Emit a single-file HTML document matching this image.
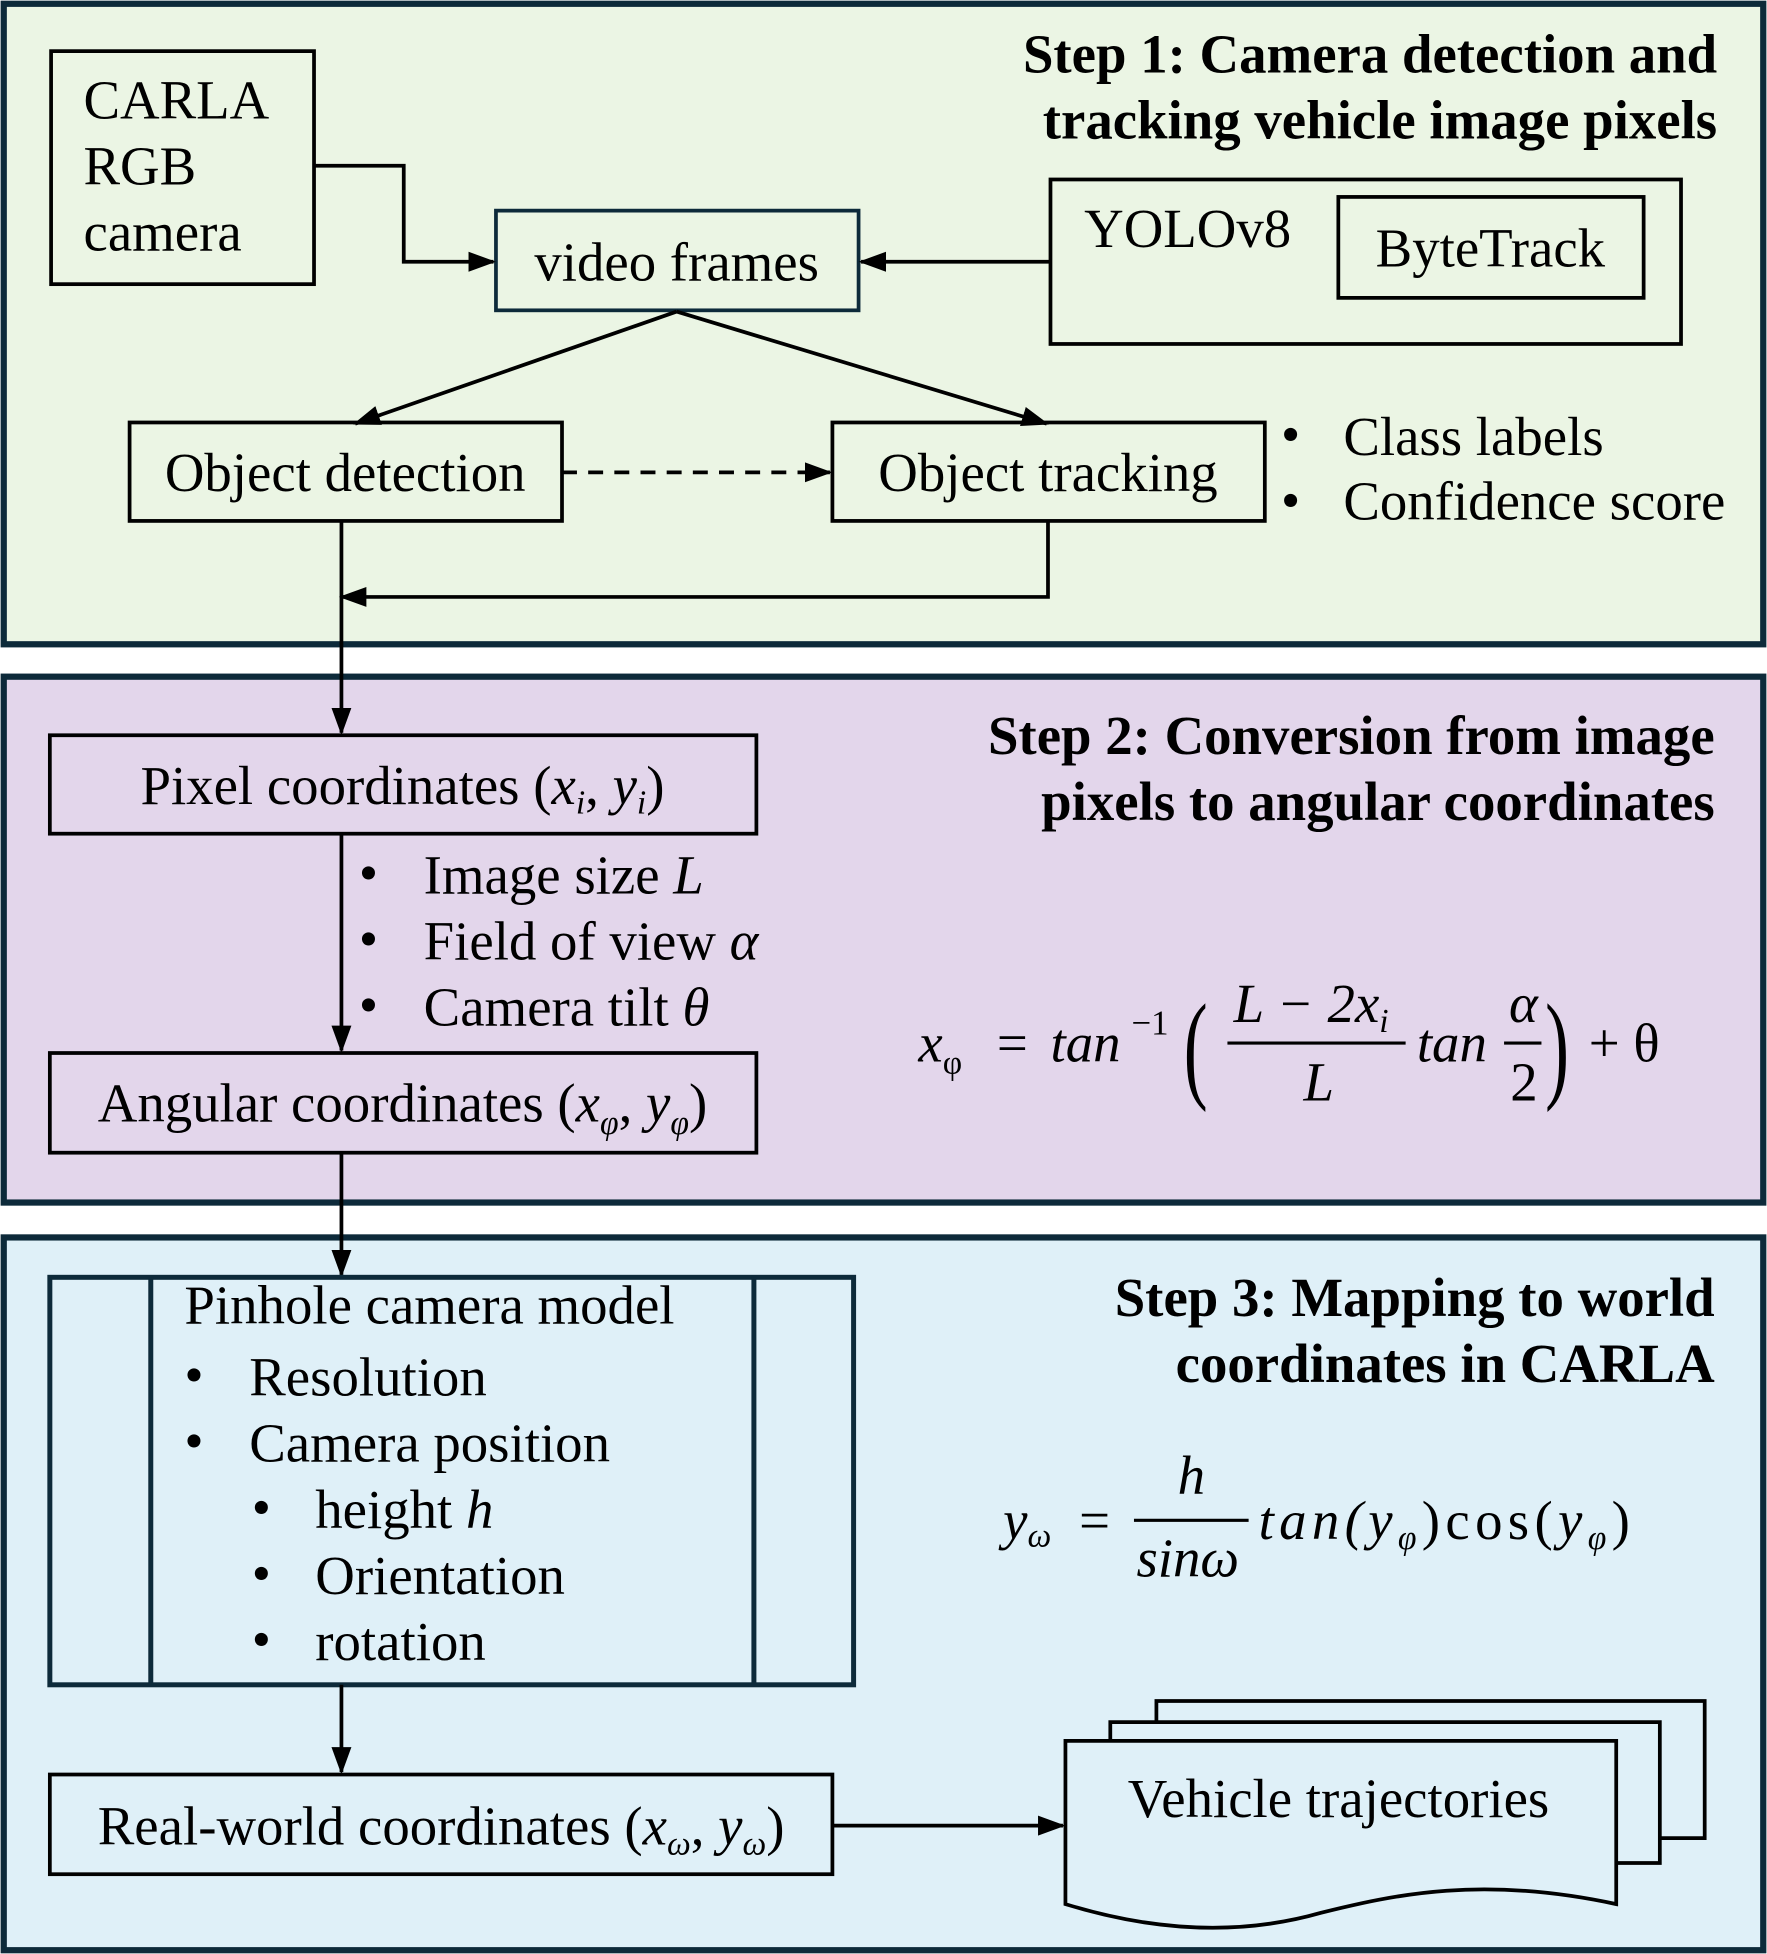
<!DOCTYPE html>
<html><head><meta charset="utf-8"><style>
html,body{margin:0;padding:0;background:#fff}
svg{display:block}
text{font-family:"Liberation Serif",serif;font-size:44px;fill:#000}
.b{font-weight:bold}
.i{font-style:italic}
.s{font-size:27px}
</style></head><body>
<svg width="1767" height="1954" viewBox="0 0 1418 1568" xmlns="http://www.w3.org/2000/svg">
<defs>
<marker id="A" markerWidth="22" markerHeight="20" refX="20" refY="10" orient="auto" markerUnits="userSpaceOnUse" viewBox="0 0 22 20">
<path d="M0,2 L22,10 L0,18 z" fill="#000"/></marker>
</defs>
<rect x="3" y="3" width="1412" height="514" fill="#ebf5e4" stroke="#0d2a3a" stroke-width="5"/>
<rect x="3" y="543" width="1412" height="422" fill="#e3d6eb" stroke="#0d2a3a" stroke-width="5"/>
<rect x="3" y="993" width="1412" height="572" fill="#dff0f8" stroke="#0d2a3a" stroke-width="5"/>

<g fill="none" stroke="#000" stroke-width="3">
<rect x="41" y="41" width="211" height="187"/>
<rect x="398" y="169" width="291" height="80" stroke="#0d2a3a"/>
<rect x="843" y="144" width="506" height="132"/>
<rect x="1074" y="158" width="245" height="81"/>
<rect x="104" y="339" width="347" height="79"/>
<rect x="668" y="339" width="347" height="79"/>
<path d="M252,133 H324 V210 H396" marker-end="url(#A)"/>
<path d="M843,210 H691" marker-end="url(#A)"/>
<path d="M543,250 L285,340" marker-end="url(#A)"/>
<path d="M543,250 L840,340" marker-end="url(#A)"/>
<path d="M451,379 H666" stroke-dasharray="12,9" marker-end="url(#A)"/>
<path d="M274,418 V588" marker-end="url(#A)"/>
<path d="M841,418 V479 H274" marker-end="url(#A)"/>
<rect x="40" y="590" width="567" height="79"/>
<rect x="40" y="845" width="567" height="80"/>
<path d="M274,669 V843" marker-end="url(#A)"/>
<path d="M274,925 V1023" marker-end="url(#A)"/>
<rect x="40" y="1025" width="645" height="327" stroke="#0d2a3a" stroke-width="4"/>
<path d="M121,1025 V1352 M605,1025 V1352" stroke="#0d2a3a" stroke-width="4"/>
<path d="M274,1352 V1422" marker-end="url(#A)"/>
<rect x="40" y="1424" width="628" height="80"/>
<path d="M668,1465 H853" marker-end="url(#A)"/>
<path d="M928,1382 V1365 H1368 V1475 H1332" fill="#dff0f8"/>
<path d="M891,1397 V1382 H1332 V1495 H1297" fill="#dff0f8"/>
<path d="M855,1397 H1297 V1528 C1190,1505 1120,1520 1060,1535 C990,1555 920,1548 855,1528 Z" fill="#dff0f8"/>
</g>

<text class="b" x="1378" y="58" text-anchor="end">Step 1: Camera detection and</text>
<text class="b" x="1378" y="111" text-anchor="end">tracking vehicle image pixels</text>
<text x="67" y="95">CARLA</text>
<text x="67" y="148">RGB</text>
<text x="67" y="201">camera</text>
<text x="543" y="225" text-anchor="middle">video frames</text>
<text x="870" y="198">YOLOv8</text>
<text x="1196" y="214" text-anchor="middle">ByteTrack</text>
<text x="277" y="394" text-anchor="middle">Object detection</text>
<text x="841" y="394" text-anchor="middle">Object tracking</text>
<text x="1028" y="363">•</text><text x="1078" y="365">Class labels</text>
<text x="1028" y="416">•</text><text x="1078" y="417">Confidence score</text>

<text class="b" x="1376" y="605" text-anchor="end">Step 2: Conversion from image</text>
<text class="b" x="1376" y="658" text-anchor="end">pixels to angular coordinates</text>
<text x="323" y="645" text-anchor="middle">Pixel coordinates (<tspan class="i">x<tspan class="s" dy="8">i</tspan></tspan><tspan dy="-8">, </tspan><tspan class="i">y<tspan class="s" dy="8">i</tspan></tspan><tspan dy="-8">)</tspan></text>
<text x="288" y="715">•</text><text x="340" y="717">Image size <tspan class="i">L</tspan></text>
<text x="288" y="768">•</text><text x="340" y="770">Field of view <tspan class="i">α</tspan></text>
<text x="288" y="821">•</text><text x="340" y="823">Camera tilt <tspan class="i">θ</tspan></text>
<text x="323" y="900" text-anchor="middle">Angular coordinates (<tspan class="i">x<tspan class="s" dy="10">φ</tspan></tspan><tspan dy="-10">, </tspan><tspan class="i">y<tspan class="s" dy="10">φ</tspan></tspan><tspan dy="-10">)</tspan></text>
<!-- formula 1 -->
<text class="i" x="737" y="852">x<tspan class="s" dy="10" style="font-style:normal">φ</tspan></text>
<text x="800" y="852">=</text>
<text class="i" x="843" y="852">tan</text>
<text x="908" y="830" style="font-size:28px">−1</text>
<text x="950" y="872" style="font-size:96px;font-weight:100" transform="translate(950,852) scale(0.6,1) translate(-950,-852)">(</text>
<text class="i" x="990" y="820">L − 2x<tspan class="s" dy="8">i</tspan></text>
<line x1="985" y1="837" x2="1128" y2="837" stroke="#000" stroke-width="2.5"/>
<text class="i" x="1046" y="883">L</text>
<text class="i" x="1137" y="852">tan</text>
<text class="i" x="1211" y="820">α</text>
<line x1="1207" y1="837" x2="1237" y2="837" stroke="#000" stroke-width="2.5"/>
<text x="1212" y="883">2</text>
<text x="1240" y="872" style="font-size:96px" transform="translate(1240,852) scale(0.6,1) translate(-1240,-852)">)</text>
<text x="1275" y="852">+ θ</text>

<text class="b" x="1376" y="1056" text-anchor="end">Step 3: Mapping to world</text>
<text class="b" x="1376" y="1109" text-anchor="end">coordinates in CARLA</text>
<text x="148" y="1062">Pinhole camera  model</text>
<text x="148" y="1118">•</text><text x="200" y="1120">Resolution</text>
<text x="148" y="1171">•</text><text x="200" y="1173">Camera position</text>
<text x="202" y="1224">•</text><text x="253" y="1226">height <tspan class="i">h</tspan></text>
<text x="202" y="1277">•</text><text x="253" y="1279">Orientation</text>
<text x="202" y="1330">•</text><text x="253" y="1332">rotation</text>
<text x="354" y="1480" text-anchor="middle">Real-world coordinates (<tspan class="i">x<tspan class="s" dy="8">ω</tspan></tspan><tspan dy="-8">, </tspan><tspan class="i">y<tspan class="s" dy="8">ω</tspan></tspan><tspan dy="-8">)</tspan></text>
<text x="905" y="1458">Vehicle trajectories</text>
<!-- formula 2 -->
<text class="i" x="805" y="1235">y<tspan class="s" dy="6">ω</tspan></text>
<text x="866" y="1235">=</text>
<text class="i" x="945" y="1199">h</text>
<line x1="910" y1="1220" x2="1002" y2="1220" stroke="#000" stroke-width="2.5"/>
<text class="i" x="912" y="1265">sinω</text>
<text class="i" x="1010" y="1235" textLength="298" lengthAdjust="spacing">tan(y<tspan class="s" dy="8">φ</tspan><tspan dy="-8" style="font-style:normal">)cos(</tspan>y<tspan class="s" dy="8">φ</tspan><tspan dy="-8" style="font-style:normal">)</tspan></text>
</svg>
</body></html>
